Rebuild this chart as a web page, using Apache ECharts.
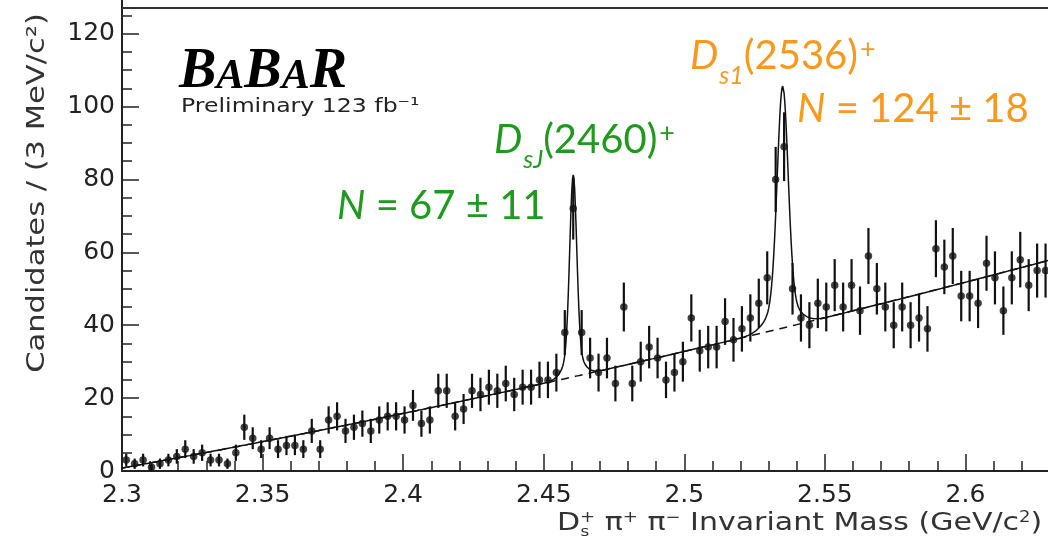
<!DOCTYPE html>
<html>
<head>
<meta charset="utf-8">
<script src="https://cdn.jsdelivr.net/npm/echarts@6/dist/echarts.min.js"></script>
<style>
  html, body { margin: 0; padding: 0; background: #ffffff; }
  #chart { width: 1048px; height: 553px; }
</style>
</head>
<body>
<div id="chart"></div>
<script>
// D_s+ pi+ pi- invariant mass, 3 MeV bins starting at 2.300 GeV/c^2
const binStart = 2.3;
const binWidth = 0.003;
const counts = [
  3, 2, 3, 1, 2, 3, 4, 6, 4, 5,
  3, 3, 2, 5, 12, 9, 6, 9, 6, 7,
  7, 6, 11, 6, 14, 15, 11, 12, 13, 11,
  14, 15, 15, 14, 18, 13, 14, 22, 22, 15,
  17, 22, 21, 23, 22, 24, 21, 23, 23, 25,
  25, 27, 38, 72, 38, 31, 27, 31, 24, 45,
  24, 30, 34, 31, 25, 27, 30, 42, 33, 34,
  34, 41, 36, 39, 42, 46, 53, 80, 89, 50,
  42, 40, 46, 45, 51, 45, 51, 44, 59, 50,
  45, 40, 45, 40, 42, 39, 61, 56, 59, 48,
  48, 46, 57, 53, 44, 53, 58, 51, 55, 55
];

// Axis ranges and ticks
const xRange = [2.3, 2.65];
const xTickStep = 0.05;
const yRange = [0, 140];
const yTickStep = 20;
const frameTop = 127;

// Fit: quadratic background in t = m - 2.3, plus two double-Gaussian peaks
const bgCoeffs = [0.8, 140, 100];
const peakMass = [2.4605, 2.5350];
const peakYield = [67, 124];
const peakSigma = [0.00123, 0.00190];
const tailFraction = 0.25;
const tailScale = 2.5;

// Annotation texts
const yieldLabels = ['N = 67 ± 11', 'N = 124 ± 18'];
const lumiText = 'Preliminary 123 fb⁻¹';
const yTitle = 'Candidates / (3 MeV/c²)';

const green = '#1f9a1f';
const orange = '#f8991d';

function background(m) {
  const t = m - binStart;
  return bgCoeffs[0] + bgCoeffs[1] * t + bgCoeffs[2] * t * t;
}
function gauss(s, d) {
  return Math.exp(-0.5 * d * d / (s * s)) / (s * Math.sqrt(2 * Math.PI));
}
function peak(m, k) {
  const d = m - peakMass[k];
  const s1 = peakSigma[k];
  return peakYield[k] * binWidth *
    ((1 - tailFraction) * gauss(s1, d) + tailFraction * gauss(s1 * tailScale, d));
}

const points = counts.map((n, i) => [binStart + (i + 0.5) * binWidth, n, Math.sqrt(n)]);

const fitTotal = [];
const fitBg = [];
for (let m = xRange[0]; m <= xRange[1] + 1e-9; m += 0.00025) {
  const b = background(m);
  fitBg.push([m, b]);
  fitTotal.push([m, b + peak(m, 0) + peak(m, 1)]);
}

const axisFont = 'DejaVu Sans';
const labelFont = 'Lato';

const chart = echarts.init(document.getElementById('chart'), null, { renderer: 'canvas' });

function richLabel(color) {
  return {
    it: { fontFamily: labelFont, fontStyle: 'italic', fontSize: 40, lineHeight: 44, verticalAlign: 'top', fill: color },
    n: { fontFamily: labelFont, fontSize: 40, lineHeight: 44, verticalAlign: 'top', fill: color },
    sub: { fontFamily: labelFont, fontStyle: 'italic', fontSize: 25, lineHeight: 24, padding: [27, 0, 0, 1], verticalAlign: 'top', fill: color },
    sup: { fontFamily: labelFont, fontSize: 27, lineHeight: 20, padding: [0, 0, 0, 2], verticalAlign: 'top', fill: color }
  };
}

const option = {
  animation: false,
  backgroundColor: '#ffffff',
  textStyle: { fontFamily: axisFont },
  grid: { left: 122, right: -58, top: -39.2, bottom: 82, containLabel: false, outerBoundsMode: 'none' },
  xAxis: {
    type: 'value',
    min: xRange[0], max: xRange[1], interval: xTickStep,
    axisLine: { show: true, onZero: false, lineStyle: { color: '#222', width: 2 } },
    axisTick: { show: true, inside: true, length: 17, lineStyle: { color: '#222', width: 1.5 } },
    minorTick: { show: true, splitNumber: 5, length: 10, lineStyle: { color: '#222', width: 1.5 } },
    splitLine: { show: false },
    axisLabel: {
      margin: 12, fontSize: 25, color: '#222', fontFamily: axisFont,
      formatter: v => String(+v.toFixed(2))
    }
  },
  yAxis: {
    type: 'value',
    min: yRange[0], max: yRange[1], interval: yTickStep,
    axisLine: { show: true, lineStyle: { color: '#222', width: 2 } },
    axisTick: { show: true, inside: true, length: 17, lineStyle: { color: '#222', width: 1.5 } },
    minorTick: { show: true, splitNumber: 4, length: 10, lineStyle: { color: '#222', width: 1.5 } },
    splitLine: { show: false },
    axisLabel: { margin: 7, fontSize: 25, color: '#222', fontFamily: axisFont }
  },
  series: [
    {
      name: 'background',
      type: 'line',
      data: fitBg,
      showSymbol: false,
      silent: true,
      lineStyle: { color: '#111', width: 1.5, type: [8, 6] },
      markLine: {
        silent: true,
        symbol: 'none',
        label: { show: false },
        lineStyle: { color: '#333', width: 1.8, type: 'solid' },
        data: [{ yAxis: frameTop }]
      },
      z: 2
    },
    {
      name: 'fit',
      type: 'line',
      data: fitTotal,
      showSymbol: false,
      silent: true,
      lineStyle: { color: '#111', width: 1.5 },
      z: 3
    },
    {
      name: 'errors',
      type: 'custom',
      data: points,
      encode: { x: 0, y: 1 },
      clip: true,
      renderItem: function (params, api) {
        const x = api.value(0), y = api.value(1), e = api.value(2);
        const p1 = api.coord([x, Math.max(0, y - e)]);
        const p2 = api.coord([x, y + e]);
        return {
          type: 'line',
          shape: { x1: p1[0], y1: p1[1], x2: p2[0], y2: p2[1] },
          style: { stroke: '#111', lineWidth: 2.2 }
        };
      },
      z: 4
    },
    {
      name: 'data',
      type: 'scatter',
      data: points.map(p => [p[0], p[1]]),
      symbol: 'circle',
      symbolSize: 7.5,
      itemStyle: { color: '#111' },
      z: 5
    }
  ],
  graphic: [
    {
      type: 'text', x: 37, y: 193, rotation: Math.PI / 2, scaleX: 1.22,
      style: { text: yTitle, fontFamily: axisFont, fontSize: 25, fill: '#333', align: 'center', verticalAlign: 'middle' }
    },
    {
      type: 'group', x: 557, y: 511, scaleX: 1.2,
      children: [
        {
          type: 'text', x: 0, y: 0,
          style: {
            text: '{n|D}{sup|+}{n| π}{sup|+}{n| π}{sup|−}{n| Invariant Mass (GeV/c}{sup|2}{n|)}',
            rich: {
              n: { fontFamily: axisFont, fontSize: 25, lineHeight: 27, verticalAlign: 'top', fill: '#333' },
              sup: { fontFamily: axisFont, fontSize: 15, lineHeight: 14, verticalAlign: 'top', fill: '#333' }
            },
            align: 'left', verticalAlign: 'top'
          }
        },
        {
          type: 'text', x: 19.5, y: 14,
          style: { text: 's', fontFamily: axisFont, fontSize: 14, fill: '#333', align: 'left', verticalAlign: 'top' }
        }
      ]
    },
    {
      type: 'text', x: 179, y: 45,
      style: {
        text: '{b|B}{a|A}{b|B}{a|A}{b|R}',
        rich: {
          b: { fontFamily: 'Liberation Serif', fontStyle: 'italic', fontWeight: 'bold', fontSize: 56, lineHeight: 56, verticalAlign: 'top', fill: '#000' },
          a: { fontFamily: 'Liberation Serif', fontStyle: 'italic', fontWeight: 'bold', fontSize: 42, lineHeight: 42, padding: [11, 0, 0, 0], verticalAlign: 'top', fill: '#000' }
        },
        align: 'left', verticalAlign: 'top'
      }
    },
    {
      type: 'text', x: 181, y: 97, scaleX: 1.18,
      style: { text: lumiText, fontFamily: axisFont, fontSize: 20, fill: '#222', align: 'left', verticalAlign: 'top' }
    },
    {
      type: 'text', x: 494, y: 120,
      style: {
        text: '{it|D}{sub|sJ}{n|(2460)}{sup|+}',
        rich: richLabel(green),
        align: 'left', verticalAlign: 'top'
      }
    },
    {
      type: 'text', x: 337, y: 186,
      style: {
        text: '{it|N}{n|' + yieldLabels[0].slice(1) + '}',
        rich: richLabel(green),
        align: 'left', verticalAlign: 'top'
      }
    },
    {
      type: 'text', x: 690, y: 36,
      style: {
        text: '{it|D}{sub|s1}{n|(2536)}{sup|+}',
        rich: richLabel(orange),
        align: 'left', verticalAlign: 'top'
      }
    },
    {
      type: 'text', x: 797, y: 89,
      style: {
        text: '{it|N}{n|' + yieldLabels[1].slice(1) + '}',
        rich: richLabel(orange),
        align: 'left', verticalAlign: 'top'
      }
    }
  ]
};

chart.setOption(option);
</script>
</body>
</html>
